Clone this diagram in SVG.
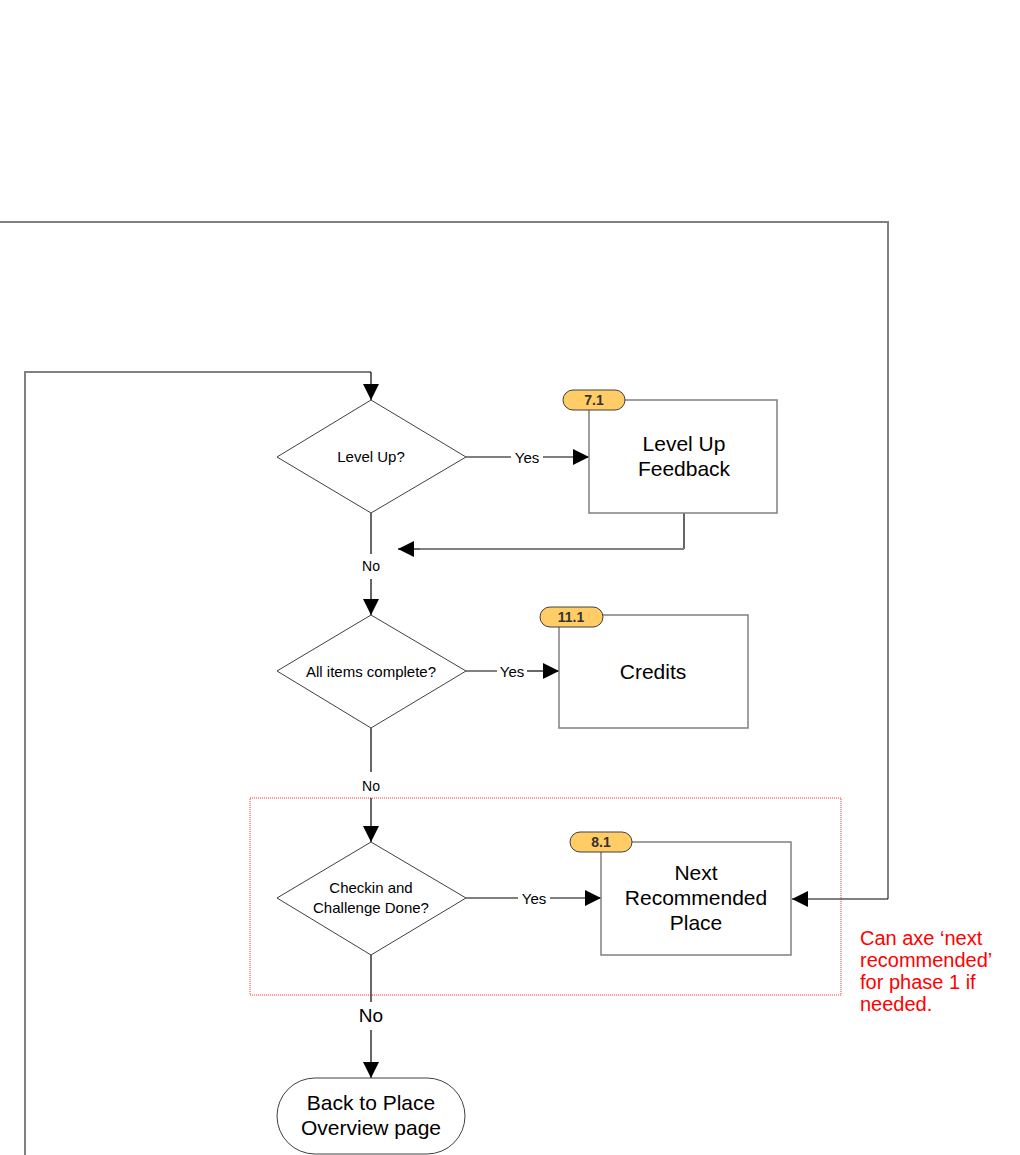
<svg xmlns="http://www.w3.org/2000/svg" width="1020" height="1155" viewBox="0 0 1020 1155">
<defs>
<style>
.dia{fill:#fff;stroke:#404040;stroke-width:1}
.box{fill:#fff;stroke:#808080;stroke-width:1.5}
.badge{fill:#FFCC66;stroke:#404040;stroke-width:1}
.ln{fill:none;stroke:#000;stroke-width:1.2}
.gl{fill:none;stroke:#808080;stroke-width:2}
.t{font-family:"Liberation Sans",Arial,sans-serif;fill:#000;text-anchor:middle}
.s{font-size:15px}
.b{font-size:21px}
.bd{font-size:14px;font-weight:bold;fill:#333}
.lbl{font-family:"Liberation Sans",Arial,sans-serif;font-size:15px;text-anchor:middle}
</style>
<marker id="ah" viewBox="0 0 10 10" refX="10" refY="5" markerWidth="24" markerHeight="16" markerUnits="userSpaceOnUse" orient="auto"><path d="M0,0 L10,5 L0,10 z" fill="#000"/></marker>
</defs>
<rect width="1020" height="1155" fill="#fff"/>
<g id="connectors">
<path class="gl" d="M0,222 H888 V899"/>
<path class="ln" d="M888,899 H792" marker-end="url(#ah)"/>
<path class="gl" d="M25,1155 V372 H371"/>
<path class="ln" d="M371,372 V400" marker-end="url(#ah)"/>
<path class="ln" d="M466,457 H589" marker-end="url(#ah)"/>
<rect x="511" y="449" width="32" height="16" fill="#fff"/>
<text class="lbl" x="527" y="463">Yes</text>
<path class="ln" d="M684,513 V549"/>
<path class="gl" d="M684,549 H420"/>
<path class="ln" d="M420,549 H398" marker-end="url(#ah)"/>
<path class="ln" d="M371,513 V554"/>
<text class="lbl" x="371" y="571" style="font-size:14px">No</text>
<path class="ln" d="M371,579 V615" marker-end="url(#ah)"/>
<path class="gl" d="M466,671 H497"/>
<path class="ln" d="M527,671 H559" marker-end="url(#ah)"/>
<text class="lbl" x="512" y="677">Yes</text>
<path class="ln" d="M371,728 V772"/>
<text class="lbl" x="371" y="791" style="font-size:14px">No</text>
<path class="ln" d="M371,798 V842" marker-end="url(#ah)"/>
<path class="ln" d="M466,898 H601" marker-end="url(#ah)"/>
<rect x="518" y="890" width="32" height="16" fill="#fff"/>
<text class="lbl" x="534" y="904">Yes</text>
<path class="ln" d="M371,955 V1002"/>
<text class="lbl" x="371" y="1022" style="font-size:19px">No</text>
<path class="ln" d="M371,1030 V1078" marker-end="url(#ah)"/>
</g>
<g id="phase-box"><rect x="250" y="798" width="591" height="197" fill="none" stroke="#FF0000" stroke-width="1" stroke-dasharray="1,1" opacity="0.8"/></g>
<g id="levelup">
<polygon class="dia" points="371,400 466,457 371,513 277,457"/>
<text class="t s" x="371" y="462">Level Up?</text>
</g>
<g id="feedback">
<rect class="box" x="589" y="400" width="188" height="113"/>
<rect class="badge" x="563" y="390" width="62" height="20" rx="10"/>
<text class="t bd" x="594" y="405">7.1</text>
<text class="t b" x="684" y="451">Level Up</text>
<text class="t b" x="684" y="476">Feedback</text>
</g>
<g id="allitems">
<polygon class="dia" points="371,615 466,671 371,728 277,671"/>
<text class="t s" x="371" y="677">All items complete?</text>
</g>
<g id="credits">
<rect class="box" x="559" y="615" width="189" height="113"/>
<rect class="badge" x="540" y="607" width="63" height="20" rx="10"/>
<text class="t bd" x="571" y="622">11.1</text>
<text class="t b" x="653" y="679">Credits</text>
</g>
<g id="checkin">
<polygon class="dia" points="371,842 466,898 371,955 277,898"/>
<text class="t s" x="371" y="893">Checkin and</text>
<text class="t s" x="371" y="913">Challenge Done?</text>
</g>
<g id="nextplace">
<rect class="box" x="601" y="842" width="190" height="113"/>
<rect class="badge" x="570" y="832" width="62" height="20" rx="10"/>
<text class="t bd" x="601" y="847">8.1</text>
<text class="t b" x="696" y="880">Next</text>
<text class="t b" x="696" y="905">Recommended</text>
<text class="t b" x="696" y="930">Place</text>
</g>
<g id="backto">
<rect x="277" y="1078" width="188" height="76" rx="38" fill="#fff" stroke="#404040" stroke-width="1"/>
<text class="t b" x="371" y="1110">Back to Place</text>
<text class="t b" x="371" y="1135">Overview page</text>
</g>
<g id="note" font-family="Liberation Sans, Arial, sans-serif" font-size="20" fill="#FF0000">
<text x="860" y="945">Can axe ‘next</text>
<text x="860" y="967">recommended’</text>
<text x="860" y="989">for phase 1 if</text>
<text x="860" y="1011">needed.</text>
</g>
</svg>
